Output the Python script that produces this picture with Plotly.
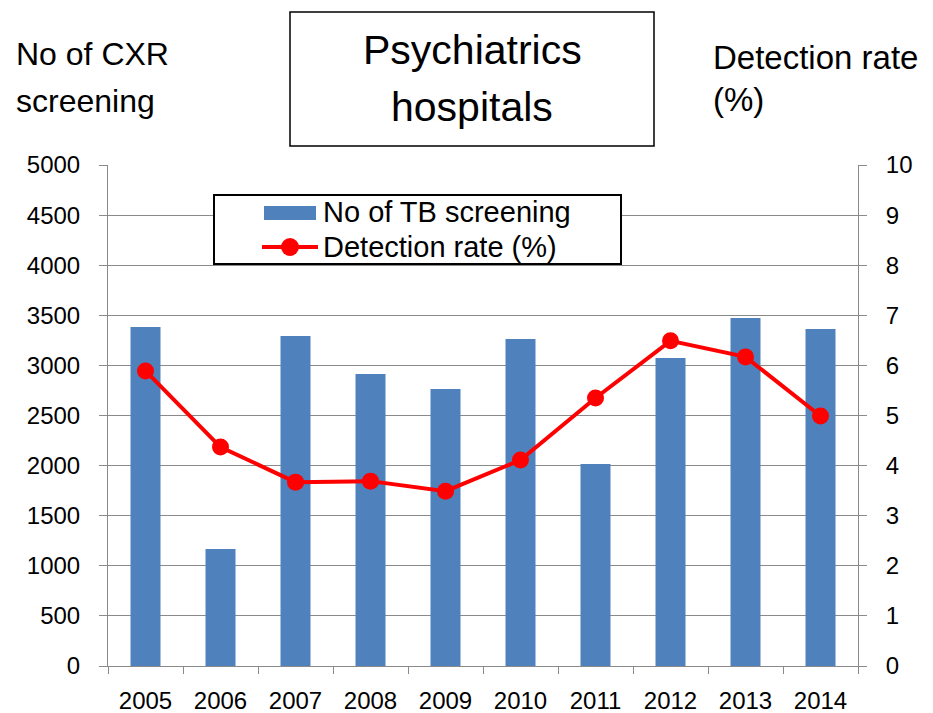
import plotly.graph_objects as go

years = ["2005", "2006", "2007", "2008", "2009", "2010", "2011", "2012", "2013", "2014"]
screening = [3383, 1168, 3293, 2914, 2764, 3263, 2016, 3074, 3473, 3363]
detection_rate = [5.89, 4.37, 3.67, 3.69, 3.49, 4.11, 5.35, 6.49, 6.17, 4.99]

FONT = "Liberation Sans, Arial, sans-serif"
GRAY = "#8a8a8a"
BLUE = "#4F81BD"
RED = "#FF0000"

fig = go.Figure()
fig.add_trace(go.Bar(x=years, y=screening, name="No of TB screening",
                     marker=dict(color=BLUE, line=dict(width=0)),
                     width=0.4, yaxis="y", showlegend=False))
fig.add_trace(go.Scatter(x=years, y=detection_rate, name="Detection rate (%)",
                         mode="lines+markers",
                         line=dict(color=RED, width=4),
                         marker=dict(color=RED, size=17),
                         yaxis="y2", showlegend=False))

# page has an 8px body margin; screen coords -> paper coords
W, H = 925, 705
L, R, T, B = 100, 75, 157, 47
pw, ph = W - L - R, H - T - B


def px(x):
    return (x - 8 - L) / pw


def py(y):
    return (H - B - (y - 8)) / ph


fig.update_layout(
    width=W, height=H,
    margin=dict(l=L, r=R, t=T, b=B, autoexpand=False),
    paper_bgcolor="white", plot_bgcolor="white",
    font=dict(family=FONT, color="black", size=24),
    showlegend=False,
    xaxis=dict(type="category", range=[-0.5, len(years) - 0.5],
               showline=True, linecolor=GRAY, linewidth=1,
               ticks="outside", tickson="boundaries", ticklen=7, tickcolor=GRAY,
               showgrid=False, tickfont=dict(size=24, family=FONT),
               ticklabelstandoff=13, automargin=False),
    yaxis=dict(range=[0, 5000], dtick=500, showline=True, linecolor=GRAY,
               ticks="outside", ticklen=8, tickcolor=GRAY,
               showgrid=True, gridcolor=GRAY, gridwidth=1,
               tickfont=dict(size=24, family=FONT), zeroline=False,
               ticklabelstandoff=14, automargin=False),
    yaxis2=dict(range=[0, 10], dtick=1, overlaying="y", side="right",
                showline=True, linecolor=GRAY, ticks="outside", ticklen=8,
                tickcolor=GRAY, showgrid=False, zeroline=False,
                tickfont=dict(size=24, family=FONT), ticklabelstandoff=14,
                automargin=False),
)

# title box
fig.add_shape(type="rect", xref="paper", yref="paper",
              x0=px(290), x1=px(654), y0=py(146), y1=py(12),
              line=dict(color="black", width=1.5), fillcolor="white")


def text(x, y, s, size, xanchor="left"):
    fig.add_annotation(xref="paper", yref="paper", x=px(x), y=py(y),
                       text=s, showarrow=False,
                       font=dict(size=size, family=FONT, color="black"),
                       xanchor=xanchor, yanchor="middle")


text(472, 50, "Psychiatrics", 41, "center")
text(472, 107, "hospitals", 41, "center")
text(14, 54, "No of CXR", 32)
text(14, 101, "screening", 32)
text(711, 57, "Detection rate", 33)
text(711, 100, "(%)", 33)

# legend (drawn manually)
fig.add_shape(type="rect", xref="paper", yref="paper",
              x0=px(214), x1=px(621), y0=py(264), y1=py(195),
              line=dict(color="black", width=2), fillcolor="white")
fig.add_shape(type="rect", xref="paper", yref="paper",
              x0=px(264), x1=px(316), y0=py(220), y1=py(206),
              line=dict(width=0), fillcolor=BLUE)
fig.add_shape(type="line", xref="paper", yref="paper",
              x0=px(262), x1=px(318), y0=py(247), y1=py(247),
              line=dict(color=RED, width=4))
fig.add_shape(type="circle", xref="paper", yref="paper",
              x0=px(281), x1=px(299), y0=py(256), y1=py(238),
              line=dict(width=0), fillcolor=RED)
text(321, 212, "No of TB screening", 29)
text(321, 247, "Detection rate (%)", 29)

fig.write_html("out.html")
